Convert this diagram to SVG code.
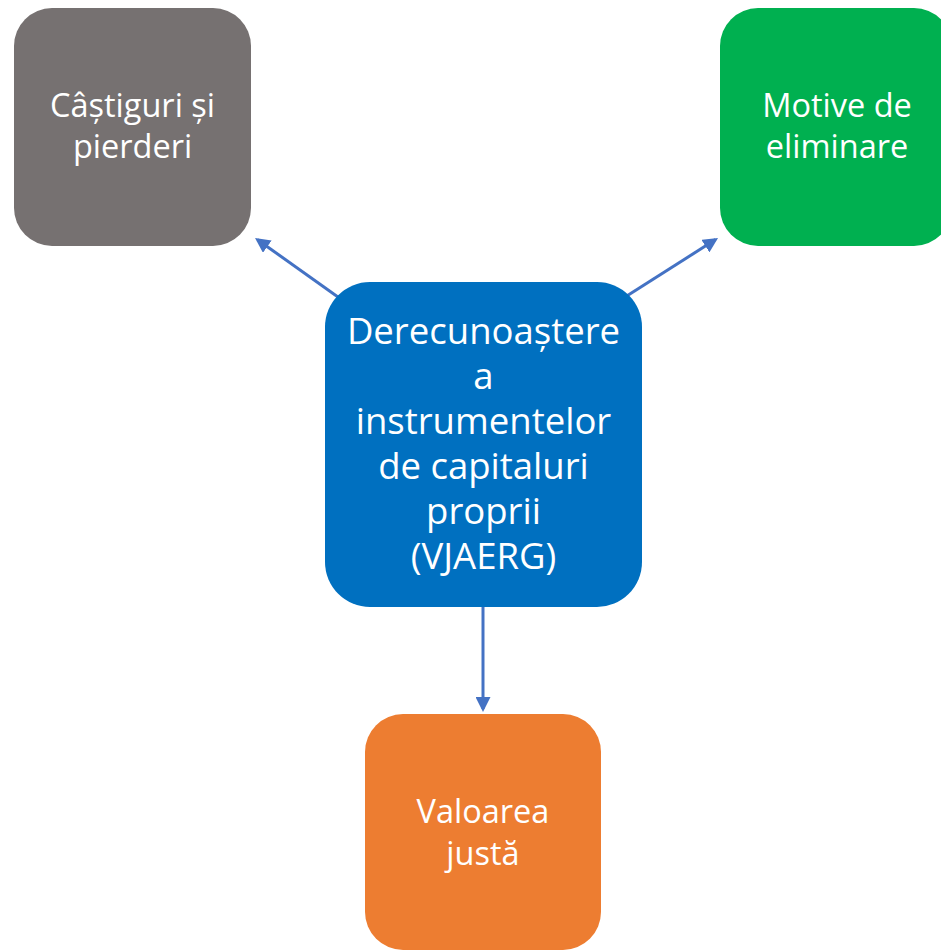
<svg xmlns="http://www.w3.org/2000/svg" width="941" height="950" viewBox="0 0 941 950">
<style>
.lbl{font-family:"Open Sans","Liberation Sans",sans-serif;fill:#ffffff;text-anchor:middle}
.big{font-size:36.5px}
.sm{font-size:32.5px}
.conn{stroke:#4472C4;stroke-width:3;fill:none}
</style>
<defs>
<marker id="ah" markerUnits="strokeWidth" markerWidth="5" markerHeight="5" refX="4" refY="2.5" orient="auto" viewBox="0 0 5 5">
<path d="M0,0 L5,2.5 L0,5 z" fill="#4472C4"/>
</marker>
</defs>
<rect width="941" height="950" fill="#ffffff"/>
<g id="connectors">
<line class="conn" x1="345" y1="302" x2="257.5" y2="239.7" marker-end="url(#ah)"/>
<line class="conn" x1="622" y1="299" x2="715.5" y2="239.6" marker-end="url(#ah)"/>
<line class="conn" x1="483" y1="605" x2="483" y2="709" marker-end="url(#ah)"/>
</g>
<g id="node-castiguri">
<rect x="14" y="8" width="237" height="238" rx="38" fill="#767171"/>
<text class="lbl sm" x="132.5" y="117">Câștiguri și</text>
<text class="lbl sm" x="132.5" y="158">pierderi</text>
</g>
<g id="node-motive">
<rect x="720" y="8" width="232" height="238" rx="38" fill="#00B050"/>
<text class="lbl sm" x="837" y="117">Motive de</text>
<text class="lbl sm" x="837" y="158">eliminare</text>
</g>
<g id="node-center">
<rect x="325" y="282" width="317" height="325" rx="45" fill="#0070C0"/>
<text class="lbl big" x="483.5" y="344">Derecunoaștere</text>
<text class="lbl big" x="483.5" y="389">a</text>
<text class="lbl big" x="483.5" y="434">instrumentelor</text>
<text class="lbl big" x="483.5" y="479">de capitaluri</text>
<text class="lbl big" x="483.5" y="524">proprii</text>
<text class="lbl big" x="483.5" y="569">(VJAERG)</text>
</g>
<g id="node-valoarea">
<rect x="365" y="714" width="236" height="236" rx="38" fill="#ED7D31"/>
<text class="lbl sm" x="483" y="823">Valoarea</text>
<text class="lbl sm" x="483" y="865">justă</text>
</g>
</svg>
